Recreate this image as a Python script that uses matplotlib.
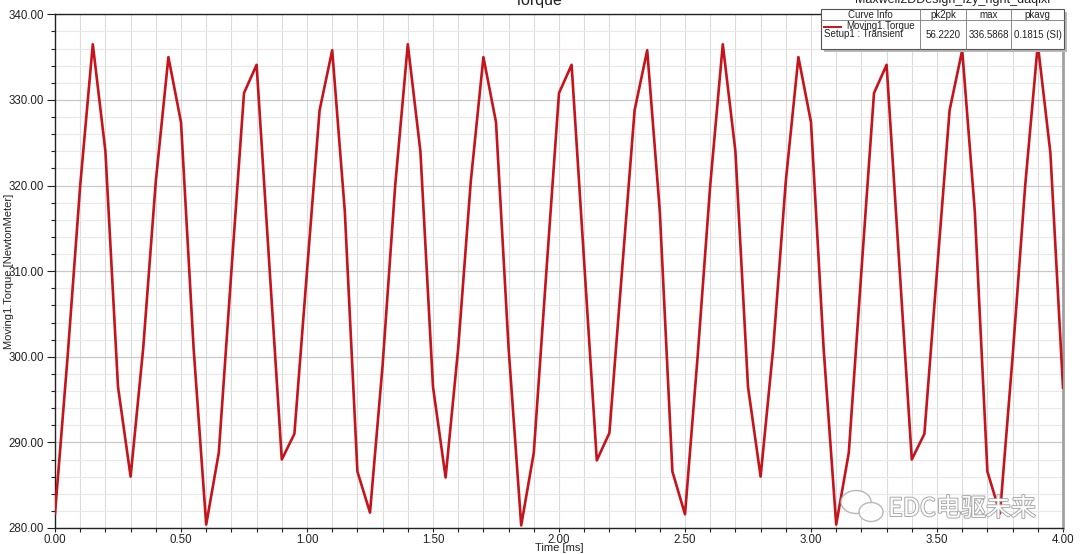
#!/usr/bin/env python3

import numpy as np
import matplotlib
matplotlib.use('Agg')
import matplotlib.pyplot as plt
from matplotlib.ticker import MultipleLocator, FormatStrFormatter
from matplotlib.patches import Rectangle, Ellipse
import matplotlib.patheffects as pe

# time samples every 0.05 ms, 0 .. 4 ms
time_ms = np.linspace(0.0, 4.0, 81)

torque = [
    281.7, 300.0, 320.0, 336.5, 324.0, 296.5, 286.0, 301.0, 320.5, 335.0,
    327.4, 301.0, 280.4, 288.8, 310.0, 330.8, 334.1, 311.0, 288.0, 291.0,
    310.0, 328.8, 335.8, 317.0, 286.6,
    281.8, 299.0, 320.0, 336.5, 324.0, 296.5, 285.9, 301.0, 320.5, 335.0,
    327.4, 301.0, 280.3, 288.8, 310.0, 330.8, 334.1, 311.0, 287.9, 291.1,
    310.0, 328.8, 335.8, 317.0, 286.6,
    281.6, 300.0, 320.0, 336.5, 324.0, 296.5, 286.0, 301.0, 320.5, 335.0,
    327.4, 301.0, 280.4, 288.8, 310.0, 330.8, 334.1, 311.0, 288.0, 291.0,
    310.0, 328.8, 335.8, 317.0, 286.6,
    281.7, 300.0, 320.0, 336.5, 323.8, 296.4,
]

legend_cols = ['Curve Info', 'pk2pk', 'max', 'pkavg']
legend_vals = ['56.2220', '336.5868', '0.1815 (SI)']

W, H = 1080, 554
plt.rcParams['font.family'] = ['Liberation Sans', 'DejaVu Sans']
TXT = '#222222'


def plot():
    fig = plt.figure(figsize=(W / 100, H / 100), dpi=100)
    ax = fig.add_axes([55 / W, 1 - 528 / H, (1063 - 55) / W, (528 - 14.3) / H])

    ax.plot(time_ms, torque, color='#c4141c', lw=1.9, zorder=3)
    ax.set_xlim(0, 4)
    ax.set_ylim(280, 340)

    ax.xaxis.set_major_locator(MultipleLocator(0.5))
    ax.xaxis.set_minor_locator(MultipleLocator(0.1))
    ax.yaxis.set_major_locator(MultipleLocator(10))
    ax.yaxis.set_minor_locator(MultipleLocator(2))
    ax.xaxis.set_major_formatter(FormatStrFormatter('%.2f'))
    ax.yaxis.set_major_formatter(FormatStrFormatter('%.2f'))
    ax.tick_params(axis='both', which='both', direction='out', colors=TXT,
                   labelsize=8.3, width=0.8)
    ax.tick_params(axis='y', which='major', length=6, pad=2)
    ax.tick_params(axis='y', which='minor', length=3)
    ax.tick_params(axis='x', which='both', length=3, pad=1.5)

    ax.grid(which='major', axis='y', color='#c8c8c8', lw=0.9)
    ax.grid(which='minor', axis='y', color='#e8e8e8', lw=0.8)
    ax.grid(which='both', axis='x', color='#dcdcdc', lw=0.8)
    ax.set_axisbelow(True)

    for s in ['left', 'bottom', 'top']:
        ax.spines[s].set_color(TXT)
        ax.spines[s].set_linewidth(1.0)
    ax.spines['right'].set_color('#a0a0a0')
    ax.spines['right'].set_linewidth(2.0)

    ax.set_xlabel('Time [ms]', fontsize=8, color=TXT)
    ax.set_ylabel('Moving1.Torque [NewtonMeter]', fontsize=8, color=TXT)
    ax.xaxis.set_label_coords(0.5, -0.0285)
    ax.yaxis.set_label_coords(-0.041, 0.5)

    fig.text(538 / W, 1.0, 'Torque', ha='center', va='center', fontsize=11.5,
             color=TXT)
    fig.text(1050 / W, 1.0, 'Maxwell2DDesign_fzy_right_daqixi', ha='right',
             va='center', fontsize=9, color=TXT)

    # overlay in pixel units for the curve-info box and watermark
    ov = fig.add_axes([0, 0, 1, 1], zorder=10)
    ov.set_xlim(0, W)
    ov.set_ylim(H, 0)
    ov.axis('off')

    x0, y0, bw, bh = 820.7, 9.0, 243.3, 40.3
    ov.add_patch(Rectangle((x0 + 3, y0 + 3), bw, bh, facecolor='#b8b8b8',
                           edgecolor='none'))
    ov.add_patch(Rectangle((x0, y0), bw, bh, facecolor='white',
                           edgecolor='#555555', lw=0.8))
    ov.plot([x0, x0 + bw], [20, 20], color='#777777', lw=0.6)
    seps = [920, 966, 1011]
    for sx in seps:
        ov.plot([sx, sx], [y0, y0 + bh], color='#777777', lw=0.6)
    centers = [870, 943, 988.5, 1037.5]
    for cx, name in zip(centers, legend_cols):
        ov.text(cx, 14.5, name, ha='center', va='center', fontsize=7,
                color=TXT)
    ov.plot([824, 841], [26.5, 26.5], color='#c4141c', lw=1.4)
    ov.text(846.5, 26, 'Moving1.Torque', ha='left', va='center', fontsize=7,
            color=TXT)
    ov.text(824, 34, 'Setup1 : Transient', ha='left', va='center', fontsize=7,
            color=TXT)
    for cx, v in zip(centers[1:], legend_vals):
        ov.text(cx, 34.5, v, ha='center', va='center', fontsize=7,
                color=TXT)

    # watermark
    ov.add_patch(Ellipse((856, 502), 30, 23, facecolor='white',
                         edgecolor='#b0b0b0', lw=1.0, alpha=0.9))
    ov.add_patch(Ellipse((871, 512), 24, 19, facecolor='white',
                         edgecolor='#b0b0b0', lw=1.0, alpha=0.9))
    ov.text(888, 509, 'EDC电驱未来', ha='left', va='center', fontsize=18,
            family=['Noto Sans CJK SC', 'DejaVu Sans'], color='white',
            path_effects=[pe.withStroke(linewidth=1.4, foreground='#a8a8a8')])

    return fig


if __name__ == '__main__':
    fig = plot()
    fig.savefig('out.png', dpi=100)
